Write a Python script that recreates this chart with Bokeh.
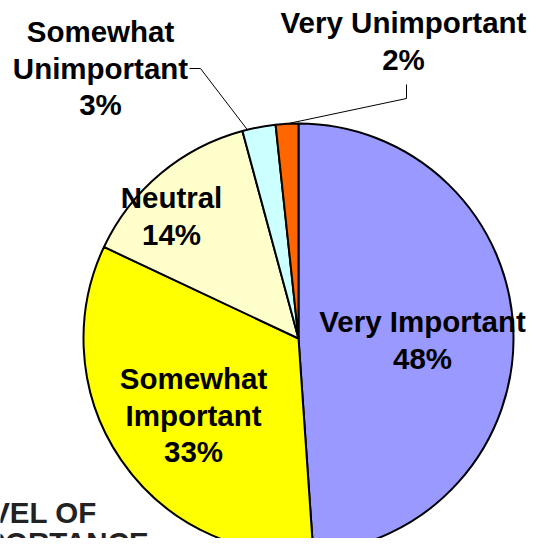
import numpy as np
from bokeh.plotting import figure
from bokeh.models import ColumnDataSource, Range1d
from bokeh.core.properties import value
from bokeh.embed import file_html
from bokeh.resources import INLINE

# ---- data ----
categories = ["Very Important", "Somewhat Important", "Neutral",
              "Somewhat Unimportant", "Very Unimportant"]
shares = [48.9, 33.1, 13.8, 2.5, 1.7]          # slice sizes as drawn
pct_labels = ["48%", "33%", "14%", "3%", "2%"]  # printed labels
colors = ["#9999FF", "#FFFF00", "#FFFFCC", "#CCFFFF", "#FF6600"]
legend_title_lines = ["LEVEL OF", "IMPORTANCE"]

# ---- layout (pixels from the plot's top-left corner) ----
W, H = 528, 538
CX, CY, R = 298, 338, 215
FONT = "Liberation Sans"
FSIZE = "29.5px"
LINE_STEP = 36.5
TEXT_DY = -11   # renderer places the text line box below the given baseline
# centre x, first baseline, split name into words?
label_layout = {
    "Very Important": (422, 332, False),
    "Somewhat Important": (193, 389, True),
    "Neutral": (171, 208, False),
    "Somewhat Unimportant": (100, 42, True),
    "Very Unimportant": (403, 33, False),
}
# leader elbow points and anchor fraction along slice (clockwise)
leader_layout = {
    "Somewhat Unimportant": ([(189, 68), (200, 68)], 0.15),
    "Very Unimportant": ([(406, 84), (406, 98)], 0.5),
}
legend_title_pos = (-48, 523)
legend_title_step = 30


def sy(y):
    return H - y


frac = np.array(shares, dtype=float) / sum(shares)
cum = np.concatenate([[0.0], np.cumsum(frac)])
start = np.pi / 2 - 2 * np.pi * cum[1:]
end = np.pi / 2 - 2 * np.pi * cum[:-1]

wedge_src = ColumnDataSource(dict(
    cat=categories, start=start, end=end, color=colors,
    x=[CX] * len(categories), y=[sy(CY)] * len(categories),
))

p = figure(width=W, height=H, x_range=Range1d(0, W), y_range=Range1d(0, H),
           output_backend="svg", toolbar_location=None,
           x_axis_type=None, y_axis_type=None, min_border=0,
           outline_line_color=None, background_fill_color="white",
           border_fill_color="white")

p.wedge(x="x", y="y", radius=R, start_angle="start", end_angle="end",
        direction="anticlock", fill_color="color", line_color="black",
        line_width=2, source=wedge_src)

# leader lines
for cat, (pts, f) in leader_layout.items():
    i = categories.index(cat)
    a = end[i] - f * (end[i] - start[i])
    ax = CX + R * np.cos(a)
    ay = sy(CY) + R * np.sin(a)
    xs = [q[0] for q in pts] + [ax]
    ys = [sy(q[1]) for q in pts] + [ay]
    p.line(xs, ys, line_color="black", line_width=1)

# slice labels
tx, ty, tt = [], [], []
for cat, pct in zip(categories, pct_labels):
    cx, b0, split = label_layout[cat]
    lines = (cat.split(" ") if split else [cat]) + [pct]
    for k, line in enumerate(lines):
        tx.append(cx)
        ty.append(sy(b0 + k * LINE_STEP + TEXT_DY))
        tt.append(line)
p.text(x=tx, y=ty, text=tt, text_align="center", text_baseline="alphabetic",
       text_font=value(FONT), text_font_style="bold", text_font_size=FSIZE,
       text_color="black")

# legend title (partly outside the view, as in the original)
lx, lb = legend_title_pos
p.text(x=[lx] * len(legend_title_lines),
       y=[sy(lb + k * legend_title_step + TEXT_DY)
          for k in range(len(legend_title_lines))],
       text=legend_title_lines, text_align="left", text_baseline="alphabetic",
       text_font=value(FONT), text_font_style="bold", text_font_size=FSIZE,
       text_color="#222222")

open("out.html", "w").write(file_html(p, INLINE))
